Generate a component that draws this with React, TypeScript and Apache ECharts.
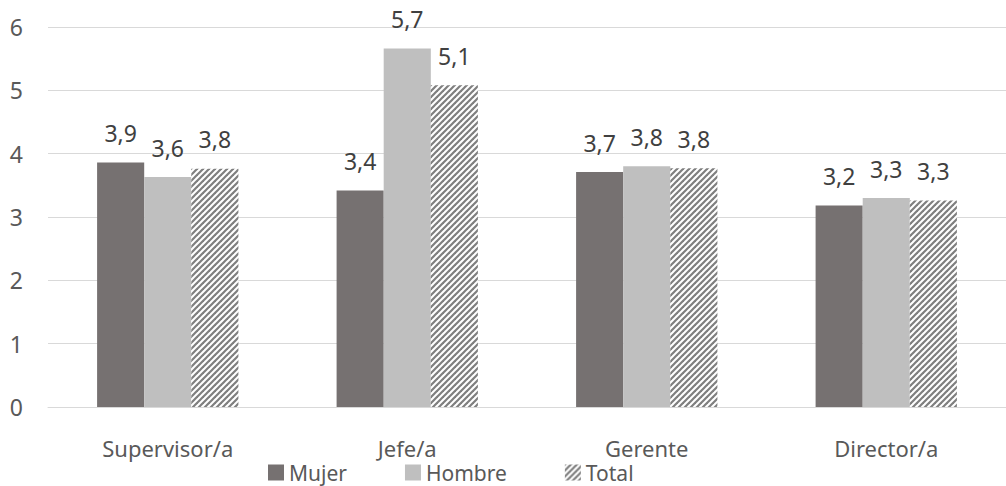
import React, { useEffect, useRef } from "react";
import * as echarts from "echarts";

const categories = ["Supervisor/a", "Jefe/a", "Gerente", "Director/a"];
const mujer = [3.86, 3.42, 3.71, 3.18];
const hombre = [3.63, 5.66, 3.8, 3.3];
const total = [3.76, 5.08, 3.77, 3.26];
const yTicks = [0, 1, 2, 3, 4, 5, 6];

const FONT = "'Noto Sans', sans-serif";
const TEXT = "#404040";
const AXIS_TEXT = "#595959";
const FS = 23;

// Diagonal stripe tile for the "Total" series
function makeHatch(): HTMLCanvasElement {
  const size = 6;
  const c = document.createElement("canvas");
  c.width = size;
  c.height = size;
  const ctx = c.getContext("2d")!;
  ctx.fillStyle = "#ffffff";
  ctx.fillRect(0, 0, size, size);
  ctx.strokeStyle = "#7f7f7f";
  ctx.lineWidth = 2.2;
  ctx.lineCap = "square";
  for (const off of [-size, 0, size]) {
    ctx.beginPath();
    ctx.moveTo(off, size);
    ctx.lineTo(off + size, 0);
    ctx.stroke();
  }
  return c;
}

const fmt = (v: number) => v.toFixed(1).replace(".", ",");

export default function App() {
  const ref = useRef<HTMLDivElement>(null);

  useEffect(() => {
    if (!ref.current) return;
    const chart = echarts.init(ref.current, undefined, { renderer: "svg" });
    const hatch = { image: makeHatch(), repeat: "repeat" } as any;

    const label = {
      show: true,
      position: "top",
      distance: 18,
      color: TEXT,
      fontSize: FS,
      fontFamily: FONT,
      formatter: (p: any) => fmt(p.value),
    };

    chart.setOption({
      animation: false,
      backgroundColor: "#ffffff",
      grid: { left: 48, right: -10, top: 27, bottom: 79, containLabel: false },
      legend: {
        left: 268,
        top: 462,
        padding: 0,
        itemWidth: 16,
        itemHeight: 16,
        itemGap: 58,
        icon: "rect",
        textStyle: { color: AXIS_TEXT, fontSize: 21, lineHeight: 21, fontFamily: FONT },
        data: ["Mujer", "Hombre", "Total"],
      },
      xAxis: {
        type: "category",
        data: categories,
        axisLine: { show: true, lineStyle: { color: "#d9d9d9", width: 1 } },
        axisTick: { show: false },
        axisLabel: { color: AXIS_TEXT, fontSize: 22, lineHeight: 22, fontFamily: FONT, margin: 30 },
      },
      yAxis: {
        type: "value",
        min: yTicks[0],
        max: yTicks[yTicks.length - 1],
        interval: 1,
        axisLine: { show: false },
        axisTick: { show: false },
        axisLabel: { color: AXIS_TEXT, fontSize: FS, fontFamily: FONT, margin: 25, align: "right" },
        splitLine: { lineStyle: { color: "#d9d9d9", width: 1 } },
      },
      series: [
        {
          name: "Mujer",
          type: "bar",
          data: mujer,
          barGap: "0%",
          barCategoryGap: "41%",
          itemStyle: { color: "#767171" },
          label,
        },
        {
          name: "Hombre",
          type: "bar",
          data: hombre,
          barGap: "0%",
          barCategoryGap: "41%",
          itemStyle: { color: "#bfbfbf" },
          label,
        },
        {
          name: "Total",
          type: "bar",
          data: total,
          barGap: "0%",
          barCategoryGap: "41%",
          itemStyle: { color: hatch },
          label,
        },
      ],
    });

    return () => chart.dispose();
  }, []);

  return (
    <div
      ref={ref}
      style={{ position: "absolute", left: 0, top: 0, width: 1006, height: 486 }}
    />
  );
}
